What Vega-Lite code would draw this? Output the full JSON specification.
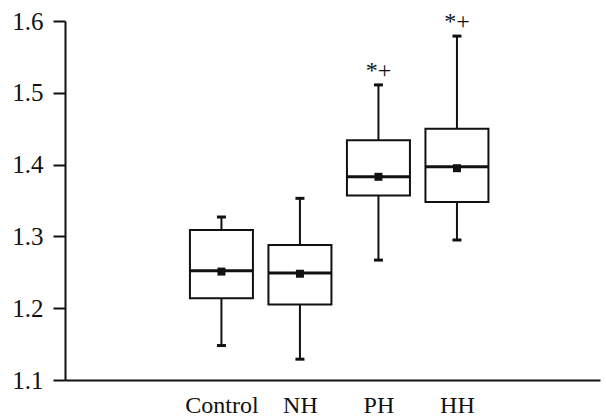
{
  "$schema": "https://vega.github.io/schema/vega-lite/v6.json",
  "width": 535,
  "height": 359,
  "autosize": {"type": "none"},
  "padding": {"left": 65, "top": 21, "right": 6, "bottom": 39},
  "background": "white",
  "config": {
    "view": {"stroke": null},
    "font": "Liberation Serif",
    "axis": {"grid": false, "domainColor": "#111111", "tickColor": "#111111", "labelColor": "#111111", "labelFont": "Liberation Serif", "domainWidth": 2, "tickWidth": 2}
  },
  "data": {
    "values": [
      {"group": "Control", "lo": 1.148, "q1": 1.214, "med": 1.252, "mean": 1.251, "q3": 1.309, "hi": 1.327, "sig": ""},
      {"group": "NH", "lo": 1.129, "q1": 1.205, "med": 1.249, "mean": 1.248, "q3": 1.288, "hi": 1.353, "sig": ""},
      {"group": "PH", "lo": 1.267, "q1": 1.357, "med": 1.383, "mean": 1.383, "q3": 1.434, "hi": 1.511, "sig": "*+"},
      {"group": "HH", "lo": 1.295, "q1": 1.348, "med": 1.397, "mean": 1.395, "q3": 1.450, "hi": 1.579, "sig": "*+"}
    ]
  },
  "encoding": {
    "x": {
      "field": "group", "type": "nominal",
      "scale": {"type": "point", "domain": [" ", "Control", "NH", "PH", "HH", "  "], "padding": 0.9075, "align": 0.547},
      "axis": {"title": null, "labelAngle": 0, "ticks": false, "labelFontSize": 24, "labelPadding": 13}
    }
  },
  "layer": [
    {
      "mark": {"type": "rule", "color": "#111111", "strokeWidth": 2},
      "encoding": {
        "y": {"field": "lo", "type": "quantitative", "scale": {"domain": [1.1, 1.6], "zero": false, "nice": false},
          "axis": {"title": null, "values": [1.1, 1.2, 1.3, 1.4, 1.5, 1.6], "format": ".1f", "tickSize": 12, "labelPadding": 10, "labelFontSize": 25}},
        "y2": {"field": "hi"}
      }
    },
    {
      "mark": {"type": "tick", "color": "#111111", "size": 9, "thickness": 3, "opacity": 1},
      "encoding": {"y": {"field": "lo", "type": "quantitative"}}
    },
    {
      "mark": {"type": "tick", "color": "#111111", "size": 9, "thickness": 3, "opacity": 1},
      "encoding": {"y": {"field": "hi", "type": "quantitative"}}
    },
    {
      "mark": {"type": "bar", "fill": "white", "stroke": "#111111", "strokeWidth": 2, "size": 63},
      "encoding": {"y": {"field": "q1", "type": "quantitative"}, "y2": {"field": "q3"}}
    },
    {
      "mark": {"type": "tick", "color": "#111111", "size": 63, "thickness": 3, "opacity": 1},
      "encoding": {"y": {"field": "med", "type": "quantitative"}}
    },
    {
      "mark": {"type": "point", "shape": "square", "filled": true, "color": "#111111", "size": 64, "opacity": 1},
      "encoding": {"y": {"field": "mean", "type": "quantitative"}}
    },
    {
      "mark": {"type": "text", "fontSize": 24, "color": "#111111", "baseline": "middle", "dy": -14},
      "encoding": {"y": {"field": "hi", "type": "quantitative"}, "text": {"field": "sig"}}
    }
  ]
}
